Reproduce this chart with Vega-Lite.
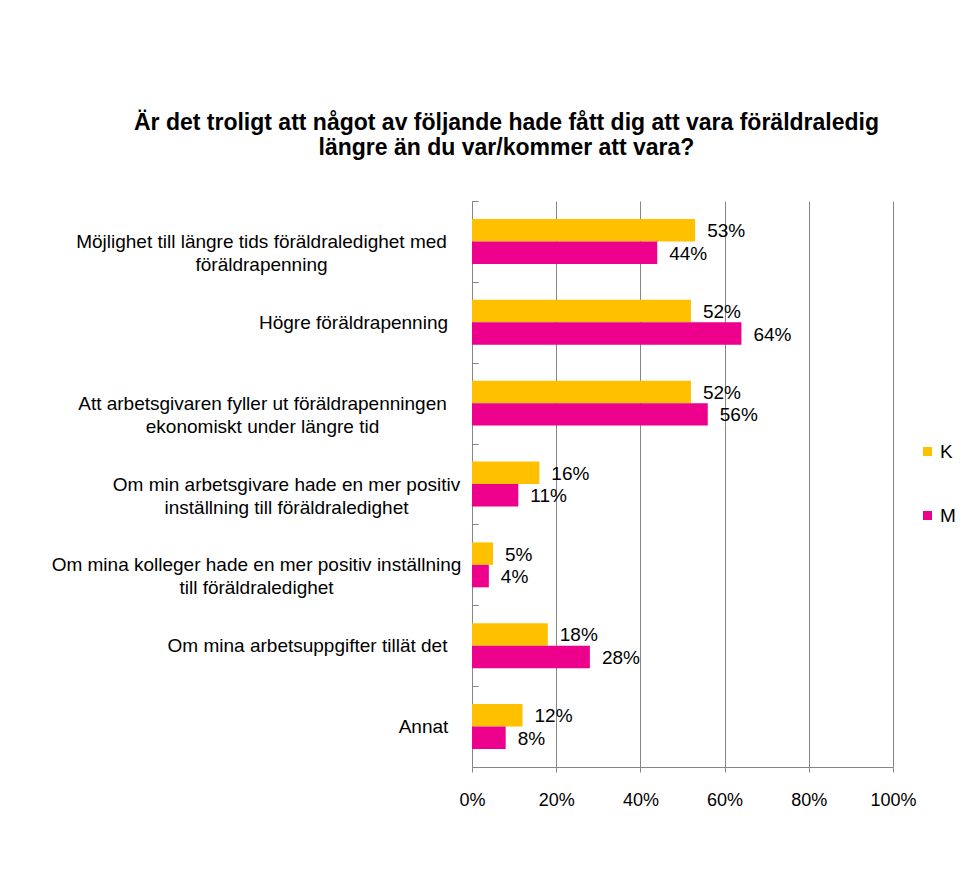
{
  "$schema": "https://vega.github.io/schema/vega-lite/v6.json",
  "width": 421,
  "height": 566,
  "autosize": {"type": "none"},
  "padding": {"left": 472, "top": 201, "right": 84, "bottom": 124},
  "background": "white",
  "title": {
    "text": ["Är det troligt att något av följande hade fått dig att vara föräldraledig", "längre än du var/kommer att vara?"],
    "font": "Liberation Sans",
    "fontSize": 23,
    "fontWeight": "bold",
    "color": "#000000",
    "lineHeight": 25,
    "anchor": "middle",
    "frame": "group",
    "dx": -176,
    "offset": 32
  },
  "data": {
    "values": [
      {"kat": "Möjlighet till längre tids föräldraledighet med|föräldrapenning", "kon": "K", "v": 0.53},
      {"kat": "Möjlighet till längre tids föräldraledighet med|föräldrapenning", "kon": "M", "v": 0.44},
      {"kat": "Högre föräldrapenning", "kon": "K", "v": 0.52},
      {"kat": "Högre föräldrapenning", "kon": "M", "v": 0.64},
      {"kat": "Att arbetsgivaren fyller ut föräldrapenningen|ekonomiskt under längre tid", "kon": "K", "v": 0.52},
      {"kat": "Att arbetsgivaren fyller ut föräldrapenningen|ekonomiskt under längre tid", "kon": "M", "v": 0.56},
      {"kat": "Om min arbetsgivare hade en mer positiv|inställning till föräldraledighet", "kon": "K", "v": 0.16},
      {"kat": "Om min arbetsgivare hade en mer positiv|inställning till föräldraledighet", "kon": "M", "v": 0.11},
      {"kat": "Om mina kolleger hade en mer positiv inställning|till föräldraledighet", "kon": "K", "v": 0.05},
      {"kat": "Om mina kolleger hade en mer positiv inställning|till föräldraledighet", "kon": "M", "v": 0.04},
      {"kat": "Om mina arbetsuppgifter tillät det", "kon": "K", "v": 0.18},
      {"kat": "Om mina arbetsuppgifter tillät det", "kon": "M", "v": 0.28},
      {"kat": "Annat", "kon": "K", "v": 0.12},
      {"kat": "Annat", "kon": "M", "v": 0.08}
    ]
  },
  "encoding": {
    "y": {
      "field": "kat",
      "type": "nominal",
      "sort": null,
      "title": null,
      "scale": {"paddingInner": 0, "paddingOuter": 0},
      "axis": {
        "labelExpr": "split(datum.label, '|')",
        "labelFont": "Liberation Sans",
        "labelFontSize": 19,
        "labelColor": "#000000",
        "labelAlign": "center",
        "labelLineHeight": 23,
        "labelLimit": 600,
        "labelPadding": {"expr": "!(datum && isString(datum.value)) ? 55 : indexof(datum.value, 'Möjlighet') == 0 ? 217 : indexof(datum.value, 'Högre') == 0 ? 125 : indexof(datum.value, 'Att arbets') == 0 ? 216 : indexof(datum.value, 'Om min arbets') == 0 ? 192 : indexof(datum.value, 'Om mina kolleger') == 0 ? 222 : indexof(datum.value, 'Om mina arbetsupp') == 0 ? 171 : 55"},
        "tickBand": "extent",
        "tickSize": -6,
        "tickColor": "#868686",
        "domainColor": "#868686",
        "grid": false
      }
    },
    "yOffset": {"field": "kon", "type": "nominal", "scale": {"paddingInner": 0, "paddingOuter": 0.8}},
    "x": {
      "field": "v",
      "type": "quantitative",
      "title": null,
      "scale": {"domain": [0, 1], "nice": false},
      "axis": {
        "values": [0, 0.2, 0.4, 0.6, 0.8, 1],
        "format": ".0%",
        "labelFlush": false,
        "labelFont": "Liberation Sans",
        "labelFontSize": 18,
        "labelColor": "#000000",
        "labelPadding": 19,
        "tickSize": 5,
        "tickColor": "#868686",
        "domainColor": "#868686",
        "gridColor": "#868686",
        "grid": true
      }
    }
  },
  "layer": [
    {
      "mark": {"type": "bar"},
      "encoding": {
        "color": {
          "field": "kon",
          "type": "nominal",
          "title": null,
          "scale": {"domain": ["K", "M"], "range": ["#FFC000", "#EC008C"]},
          "legend": {
            "orient": "none",
            "legendX": 446,
            "legendY": 241,
            "padding": 0,
            "symbolType": "square",
            "symbolSize": 81,
            "symbolStrokeWidth": 0,
            "labelFont": "Liberation Sans",
            "labelFontSize": 19,
            "labelColor": "#000000",
            "labelOffset": 3,
            "rowPadding": 44
          }
        }
      }
    },
    {
      "mark": {"type": "text", "align": "left", "baseline": "middle", "dx": 12, "dy": 1, "font": "Liberation Sans", "fontSize": 19, "color": "#000000"},
      "encoding": {
        "text": {"field": "v", "type": "quantitative", "format": ".0%"}
      }
    }
  ],
  "config": {"view": {"stroke": null}}
}
